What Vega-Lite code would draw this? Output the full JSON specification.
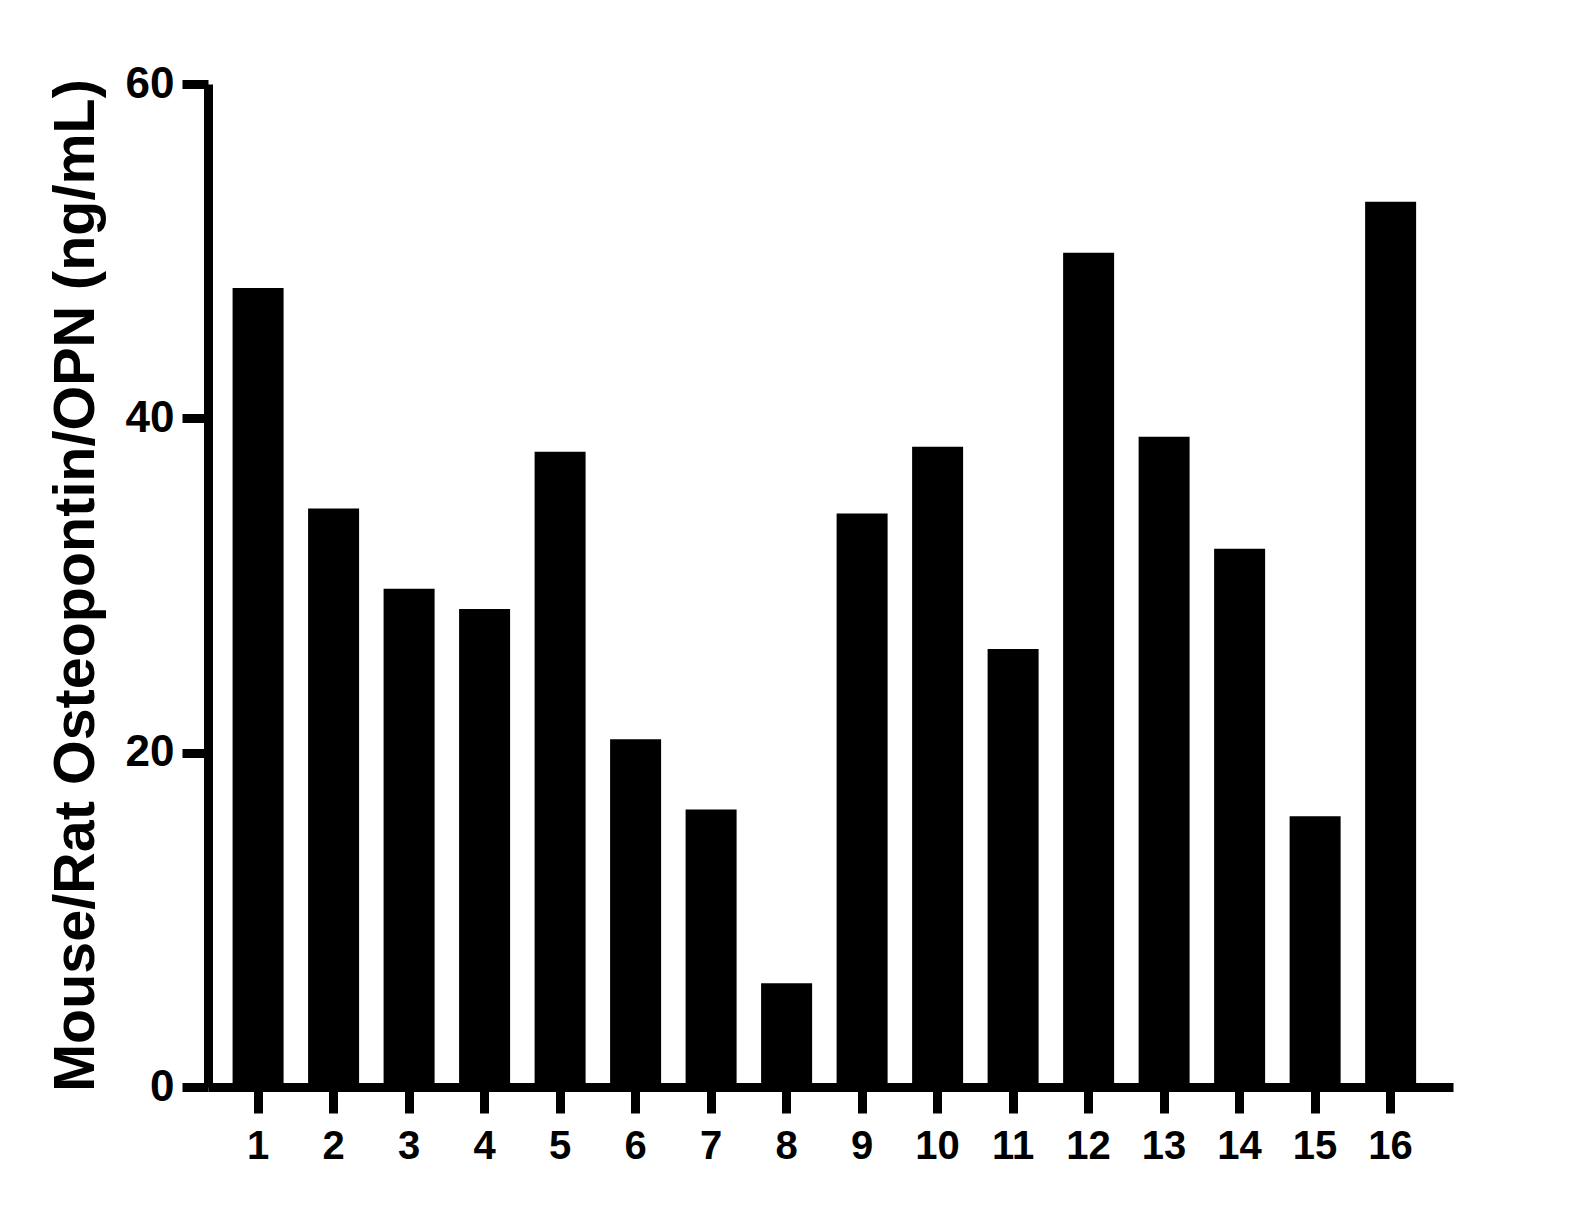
{
  "$schema": "https://vega.github.io/schema/vega-lite/v6.json",
  "width": 1245,
  "height": 1003,
  "autosize": {"type": "none"},
  "padding": {"left": 208, "top": 84, "right": 134, "bottom": 121},
  "background": "white",
  "config": {
    "view": {"stroke": null},
    "font": "Liberation Sans",
    "axis": {"grid": false, "domainColor": "black", "tickColor": "black", "labelColor": "black", "titleColor": "black"}
  },
  "data": {
    "values": [
      {"sample": "1", "value": 47.8},
      {"sample": "2", "value": 34.6},
      {"sample": "3", "value": 29.8},
      {"sample": "4", "value": 28.6},
      {"sample": "5", "value": 38.0},
      {"sample": "6", "value": 20.8},
      {"sample": "7", "value": 16.6},
      {"sample": "8", "value": 6.2},
      {"sample": "9", "value": 34.3},
      {"sample": "10", "value": 38.3},
      {"sample": "11", "value": 26.2},
      {"sample": "12", "value": 49.9},
      {"sample": "13", "value": 38.9},
      {"sample": "14", "value": 32.2},
      {"sample": "15", "value": 16.2},
      {"sample": "16", "value": 52.95}
    ]
  },
  "mark": {"type": "bar", "color": "black"},
  "encoding": {
    "x": {
      "field": "sample",
      "type": "ordinal",
      "sort": null,
      "scale": {"paddingInner": 0.3245, "paddingOuter": 0.407, "align": 0.4},
      "axis": {
        "title": null,
        "labelAngle": 0,
        "labelFont": "Liberation Sans",
        "labelFontWeight": "bold",
        "labelFontSize": 40,
        "labelPadding": 13,
        "tickSize": 26,
        "tickWidth": 9,
        "domainWidth": 9
      }
    },
    "y": {
      "field": "value",
      "type": "quantitative",
      "scale": {"domain": [0, 60], "nice": false},
      "axis": {
        "title": "Mouse/Rat Osteopontin/OPN (ng/mL)",
        "values": [0, 20, 40, 60],
        "labelFont": "Liberation Sans",
        "labelFontWeight": "bold",
        "labelFontSize": 44,
        "labelPadding": 8,
        "tickSize": 26,
        "tickWidth": 9,
        "domainWidth": 9,
        "titleFont": "Liberation Sans",
        "titleFontWeight": "bold",
        "titleFontSize": 57.5,
        "titleAngle": -90,
        "titleAlign": "center",
        "titleBaseline": "middle",
        "titleX": -132,
        "titleY": 501
      }
    }
  }
}
